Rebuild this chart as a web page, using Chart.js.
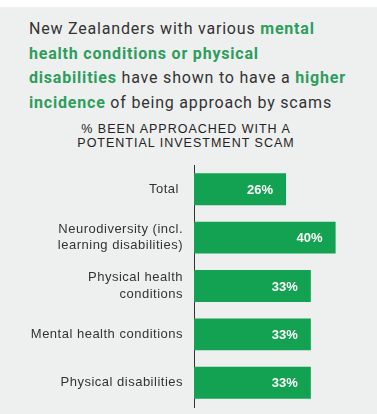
<!DOCTYPE html>
<html>
<head>
<meta charset="utf-8">
<script src="https://cdn.jsdelivr.net/npm/chart.js@4"></script>
<style>
    html, body { margin: 0; padding: 0; background: #ffffff; }
    #panel { position: absolute; left: 0; top: 7px; width: 377px; height: 407px; background: #eef0ef; }
    #title { position: absolute; left: 29px; top: 17px; width: 348px; margin: 0; white-space: nowrap;
        font: 16px Roboto, "Liberation Sans", Arial, sans-serif; line-height: 24.5px; color: #333;
        letter-spacing: 0.8px; }
    #title b { color: #2e9d5d; font-weight: bold; }
    #sub { position: absolute; left: 0; top: 122px; width: 372px; text-align: center; margin: 0;
        font: 12.5px "Liberation Sans", Arial, sans-serif; line-height: 14px; color: #222; letter-spacing: 1px; }
    #wrap { position: absolute; left: 0; top: 155px; width: 377px; height: 259px; }
</style>
</head>
<body>
<div id="panel"></div>
<p id="title">New Zealanders with various <b>mental</b><br><b>health conditions or physical</b><br><b>disabilities</b> have shown to have a <b>higher</b><br><b>incidence</b> of being approach by scams</p>
<p id="sub">% BEEN APPROACHED WITH A<br>POTENTIAL INVESTMENT SCAM</p>
<div id="wrap"><canvas id="chart"></canvas></div>
<script>
// --- DATOS ---
const categories = [
    'Total ',
    ['Neurodiversity (incl.', 'learning disabilities)'],
    ['Physical health', 'conditions'],
    'Mental health conditions',
    'Physical disabilities'
];
const values = [26, 40, 33, 33, 33];
const valueLabels = ['26%', '40%', '33%', '33%', '33%'];

// espaciado de letras en las etiquetas del eje
const letterSpacing = {
    id: 'letterSpacing',
    beforeDraw(chart) { chart.ctx.letterSpacing = '0.5px'; }
};

// etiquetas dentro de la barra, alineadas al final
const barLabels = {
    id: 'barLabels',
    afterDatasetsDraw(chart) {
        const { ctx } = chart;
        const meta = chart.getDatasetMeta(0);
        ctx.save();
        ctx.letterSpacing = '0px';
        ctx.font = 'bold 13px "Liberation Sans", Arial, sans-serif';
        ctx.fillStyle = '#ffffff';
        ctx.textAlign = 'right';
        ctx.textBaseline = 'middle';
        meta.data.forEach((bar, i) => {
            ctx.fillText(valueLabels[i], bar.x - 13, bar.y + 1);
        });
        ctx.restore();
    }
};

new Chart(document.getElementById('chart'), {
    type: 'bar',
    data: {
        labels: categories,
        datasets: [{
            data: values,
            backgroundColor: '#13a152',
            barPercentage: 0.66,
            categoryPercentage: 1
        }]
    },
    options: {
        indexAxis: 'y',
        responsive: true,
        maintainAspectRatio: false,
        animation: false,
        layout: { padding: { top: 10, right: 6, left: 0, bottom: 7 } },
        plugins: { legend: { display: false }, tooltip: { enabled: false } },
        scales: {
            x: { display: false, min: 0, max: 50 },
            y: {
                afterFit(scale) {
                    scale.width = 194;
                    scale.paddingTop = 0;
                    scale.paddingBottom = 0;
                },
                grid: { display: false, drawTicks: false },
                border: { display: true, color: '#333', width: 1 },
                ticks: {
                    padding: 11,
                    color: '#333',
                    font: { family: '"Liberation Sans", Arial, sans-serif', size: 13, lineHeight: 1.25 }
                }
            }
        }
    },
    plugins: [letterSpacing, barLabels]
});
</script>
</body>
</html>
